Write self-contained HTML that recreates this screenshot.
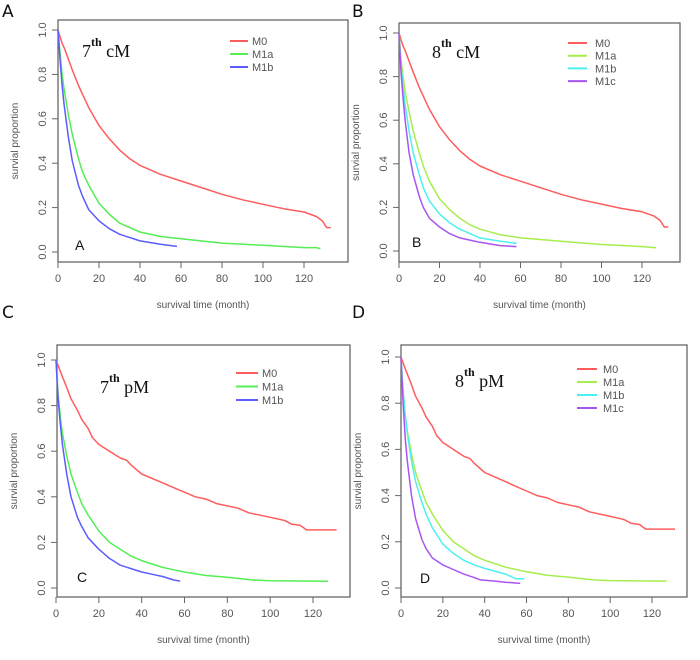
<!DOCTYPE html>
<html><head><meta charset="utf-8"><style>
html,body{margin:0;padding:0;background:#fff;}
svg{display:block;font-family:"Liberation Sans",sans-serif;}
</style></head><body>
<svg id="fig" width="700" height="660" viewBox="0 0 700 660"></svg>
<script>
// ---- data ----
const seriesNames3 = ["M0","M1a","M1b"];
const seriesNames4 = ["M0","M1a","M1b","M1c"];
const xTicks = [0,20,40,60,80,100,120];
const yTicks = [0.0,0.2,0.4,0.6,0.8,1.0];
const yTickLabels = ["0.0","0.2","0.4","0.6","0.8","1.0"];

const aM0t = [0,1,2,3,5,7,10,12,15,20,25,30,35,40,50,60,70,80,90,100,110,120,126,129,131,133];
const aM0s = [1,0.97,0.94,0.92,0.87,0.82,0.75,0.71,0.65,0.57,0.51,0.46,0.42,0.39,0.35,0.32,0.29,0.26,0.235,0.215,0.195,0.18,0.16,0.14,0.11,0.11];
const aM1at = [0,1,2,3,5,7,10,12,15,20,25,30,35,40,50,60,80,100,120,126,128];
const aM1as = [1,0.9,0.8,0.73,0.62,0.53,0.42,0.36,0.3,0.22,0.17,0.13,0.11,0.09,0.07,0.06,0.04,0.03,0.02,0.02,0.015];
const aM1bt = [0,1,2,3,5,7,10,12,15,20,25,30,35,40,50,58];
const aM1bs = [1,0.87,0.75,0.66,0.52,0.41,0.3,0.25,0.19,0.14,0.105,0.08,0.065,0.05,0.035,0.025];

const bM1at = [0,1,2,3,5,7,10,12,15,20,25,30,35,40,50,60,80,100,120,127];
const bM1as = [1,0.88,0.8,0.73,0.64,0.55,0.45,0.39,0.32,0.24,0.19,0.15,0.12,0.1,0.075,0.06,0.045,0.03,0.02,0.015];
const bM1bt = [0,1,2,3,5,7,10,12,15,20,25,30,35,40,50,58];
const bM1bs = [1,0.85,0.75,0.67,0.55,0.45,0.35,0.29,0.23,0.17,0.13,0.1,0.08,0.06,0.045,0.035];
const bM1ct = [0,1,2,3,5,7,10,12,15,20,25,30,35,40,50,58];
const bM1cs = [1,0.82,0.7,0.6,0.45,0.35,0.25,0.2,0.15,0.11,0.08,0.06,0.05,0.04,0.025,0.02];

const cM0t = [0,2,5,7,10,12,15,17,20,25,30,33,35,40,45,50,55,60,65,70,75,80,85,90,100,105,107,110,114,117,131];
const cM0s = [1,0.95,0.88,0.83,0.78,0.74,0.7,0.66,0.63,0.6,0.57,0.56,0.54,0.5,0.48,0.46,0.44,0.42,0.4,0.39,0.37,0.36,0.35,0.33,0.31,0.3,0.295,0.28,0.275,0.255,0.255];
const cM1at = [0,1,2,3,5,7,10,12,15,20,25,30,35,40,45,50,55,60,70,80,92,100,127];
const cM1as = [1,0.85,0.75,0.68,0.58,0.5,0.42,0.37,0.32,0.25,0.2,0.17,0.14,0.12,0.105,0.09,0.08,0.07,0.055,0.047,0.035,0.032,0.03];
const cM1bt = [0,1,2,3,5,7,10,12,15,20,25,30,35,40,45,50,55,58];
const cM1bs = [1,0.83,0.72,0.63,0.5,0.4,0.31,0.27,0.22,0.17,0.13,0.1,0.085,0.07,0.06,0.05,0.035,0.03];

const dM1at = [0,1,2,3,5,7,10,12,15,20,25,30,35,40,45,50,55,60,70,80,92,100,127];
const dM1as = [1,0.85,0.75,0.68,0.58,0.5,0.42,0.37,0.32,0.25,0.2,0.17,0.14,0.12,0.105,0.09,0.08,0.07,0.055,0.047,0.035,0.032,0.03];
const dM1bt = [0,1,2,3,5,7,10,12,15,20,25,30,35,40,50,55,59];
const dM1bs = [1,0.85,0.75,0.67,0.55,0.46,0.37,0.32,0.26,0.19,0.15,0.12,0.1,0.085,0.06,0.04,0.04];
const dM1ct = [0,1,2,3,5,7,10,12,15,20,25,30,35,38,45,50,57];
const dM1cs = [1,0.8,0.65,0.55,0.4,0.3,0.21,0.17,0.13,0.1,0.08,0.06,0.045,0.035,0.03,0.025,0.02];

const RED="#ff5c5c",GREEN="#55ee55",BLUE="#5c5cff",LIME="#a6ee4c",CYAN="#4cf0f0",PURP="#a855f0";

const panels = [
 {id:"a",letter:"A",lx:2,ly:17,box:[58,20,348,262],x0:58,x120:304,y1:30,y0:252,ed:"7",st:"cM",tx:82,ty:57,
  inL:"A",ix:75,iy:250,leg:[230,248,252,41,13],
  series:[[seriesNames3[0],aM0t,aM0s,RED],[seriesNames3[1],aM1at,aM1as,GREEN],[seriesNames3[2],aM1bt,aM1bs,BLUE]]},
 {id:"b",letter:"B",lx:352,ly:17,box:[399,23,680,262],x0:399,x120:642,y1:33,y0:251,ed:"8",st:"cM",tx:432,ty:58,
  inL:"B",ix:412,iy:247,leg:[568,587,595,43,12.7],
  series:[[seriesNames4[0],aM0t,aM0s,RED],[seriesNames4[1],bM1at,bM1as,LIME],[seriesNames4[2],bM1bt,bM1bs,CYAN],[seriesNames4[3],bM1ct,bM1cs,PURP]]},
 {id:"c",letter:"C",lx:2,ly:318,box:[57,345,350,597],x0:56,x120:313,y1:360,y0:588,ed:"7",st:"pM",tx:100,ty:393,
  inL:"C",ix:77,iy:582,leg:[236,258,262,373,13.5],
  series:[[seriesNames3[0],cM0t,cM0s,RED],[seriesNames3[1],cM1at,cM1as,GREEN],[seriesNames3[2],cM1bt,cM1bs,BLUE]]},
 {id:"d",letter:"D",lx:352,ly:318,box:[401,345,687,597],x0:401,x120:652,y1:357,y0:588,ed:"8",st:"pM",tx:455,ty:387,
  inL:"D",ix:420,iy:583,leg:[577,597,603,369,13],
  series:[[seriesNames4[0],cM0t,cM0s,RED],[seriesNames4[1],dM1at,dM1as,LIME],[seriesNames4[2],dM1bt,dM1bs,CYAN],[seriesNames4[3],dM1ct,dM1cs,PURP]]}
];

const svg=document.getElementById('fig');
const NS="http://www.w3.org/2000/svg";
function mk(tag,attrs,parent,text){const e=document.createElementNS(NS,tag);for(const k in attrs)e.setAttribute(k,attrs[k]);if(text!==undefined)e.textContent=text;(parent||svg).appendChild(e);return e;}

panels.forEach(p=>{
  const g=mk('g',{});
  
  
  const sx=v=>p.x0+(p.x120-p.x0)*v/120;
  const sy=v=>p.y0+(p.y1-p.y0)*v;
  const [bl,bt,br,bb]=p.box;
  const L=mk('text',{x:p.lx,y:p.ly,'font-size':17,fill:'#111','font-family':'DejaVu Sans, sans-serif'},g,p.letter);
  
  
  const box=mk('rect',{x:bl,y:bt,width:br-bl,height:bb-bt,fill:'none',stroke:'#666','stroke-width':1.3},g);
  
  
  xTicks.forEach(t=>{
    const x=sx(t);
    mk('line',{x1:x,y1:bb,x2:x,y2:bb+6,stroke:'#666'},g);
    const tl=mk('text',{x:x,y:bb+20,'font-size':11,fill:'#555','text-anchor':'middle'},g,String(t));
    
    
  });
  yTicks.forEach((t,i)=>{
    const y=sy(t);
    mk('line',{x1:bl,y1:y,x2:bl-6,y2:y,stroke:'#666'},g);
    const tl=mk('text',{x:bl-12,y:y,'font-size':11,fill:'#555','text-anchor':'middle',transform:`rotate(-90 ${bl-12} ${y})`},g,yTickLabels[i]);
    
    
  });
  const xt=mk('text',{x:(bl+br)/2,y:bb+46,'font-size':10,fill:'#555','text-anchor':'middle'},g,'survival time (month)');
  
  
  const yx=bl-40,yy=(bt+bb)/2;
  const yt=mk('text',{x:yx,y:yy,'font-size':10,fill:'#555','text-anchor':'middle',transform:`rotate(-90 ${yx} ${yy})`},g,'survial proportion');
  
  
  p.series.forEach(s=>{
    const [name,ts,ss,col]=s;
    const pts=ts.map((t,i)=>sx(t).toFixed(1)+','+sy(ss[i]).toFixed(1)).join(' ');
    const pl=mk('polyline',{points:pts,fill:'none',stroke:col,'stroke-width':1.5,'stroke-linejoin':'round'},g);
    
    
  });
  const [l1,l2,lt,ly0,dy]=p.leg;
  p.series.forEach((s,i)=>{
    const y=ly0+i*dy;
    const ln=mk('line',{x1:l1,y1:y,x2:l2,y2:y,stroke:s[3],'stroke-width':2},g);
    
    
    const tx=mk('text',{x:lt,y:y+4,'font-size':11,fill:'#555'},g,s[0]);
    
    
  });
  const ti=mk('text',{x:p.tx,y:p.ty,'font-size':18,fill:'#111','font-family':'Liberation Serif, serif'},g);
  
  
  mk('tspan',{},ti,p.ed);
  mk('tspan',{dy:-11,'font-size':12,'font-weight':'bold'},ti,'th');
  mk('tspan',{dy:11},ti,' '+p.st);
  const il=mk('text',{x:p.ix,y:p.iy,'font-size':14,fill:'#111'},g,p.inL);
  
  
});
</script>
</body></html>
